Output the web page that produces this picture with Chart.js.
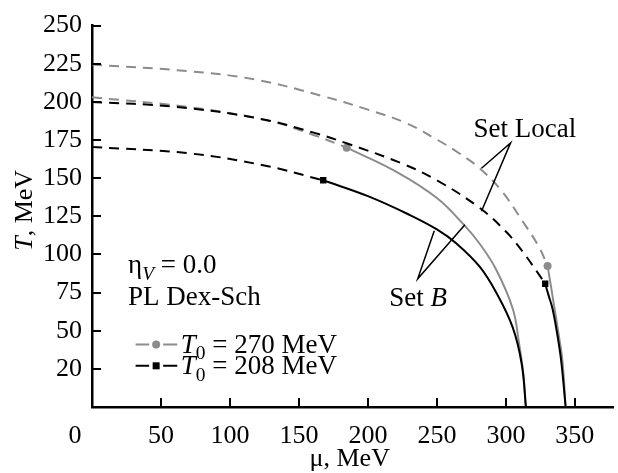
<!DOCTYPE html>
<html>
<head>
<meta charset="utf-8">
<title>T-mu phase diagram</title>
<script src="https://cdn.jsdelivr.net/npm/chart.js@4.4.1/dist/chart.umd.min.js"></script>
<style>
  html, body { margin: 0; padding: 0; background: #fff; }
  canvas { display: block; }
</style>
</head>
<body>
<canvas id="phaseChart" width="618" height="473"></canvas>
<script>
// T0 = 270 MeV, Set Local
var muLocal270Dash = [0, 70, 118, 166, 200, 228, 250, 265, 281, 297, 312, 324, 330.2];
var tLocal270Dash  = [224.5, 220.1, 214.7, 204.1, 194.9, 186, 175.3, 167, 156.5, 141.5, 121.9, 104.9, 92.5];
var muLocal270Solid = [330.2, 332.5, 335, 338, 341, 343.3];
var tLocal270Solid  = [92.5, 80, 66, 49, 30, 0];

// T0 = 208 MeV, Set Local
var muLocal208Dash = [0, 60, 121, 160, 185, 225, 250, 281, 300, 312, 324, 328.5];
var tLocal208Dash  = [200, 196.8, 189.1, 180, 172.7, 159.5, 148.6, 130.5, 115, 102, 86.8, 80.8];
var muLocal208Solid = [328.5, 331, 333.8, 337, 339.8, 341.8, 343.3];
var tLocal208Solid  = [80.8, 73, 64.4, 49, 32.4, 15, 0];

// T0 = 270 MeV, Set B
var muB270Dash = [0, 70, 128, 160, 184.6];
var tB270Dash  = [203, 196.6, 187.6, 178.5, 170];
var muB270Solid = [184.6, 221, 250, 269, 281, 293, 305, 309.5, 312.6, 314.5];
var tB270Solid  = [170, 154, 137, 120, 107, 90, 64.4, 42, 22, 0];

// T0 = 208 MeV, Set B
var muB208Dash = [0, 70, 124, 167.6];
var tB208Dash  = [170.5, 166.3, 158.5, 148.6];
var muB208Solid = [167.6, 200, 230, 250, 264.4, 281, 293, 305, 311.5, 314.5];
var tB208Solid  = [148.6, 138.2, 126, 116.4, 107, 92, 75, 52, 28, 0];

var muTicks = [0, 50, 100, 150, 200, 250, 300, 350];
var tTicks = [25, 50, 75, 100, 125, 150, 175, 200, 225, 250];
var tTickLabels = ['20', '50', '75', '100', '125', '150', '175', '200', '225', '250'];

var GRAY = '#8c8c8c';
var BLACK = '#000000';
var FONT = '"Liberation Serif", "Times New Roman", serif';

function points(mu, t) {
  return mu.map(function (m, i) { return { x: m, y: t[i] }; });
}

function curve(mu, t, color, dashed, marker) {
  return {
    data: points(mu, t),
    showLine: true,
    borderColor: color,
    backgroundColor: color,
    borderWidth: 2,
    borderDash: dashed ? [10, 7] : [],
    tension: 0.4,
    pointStyle: marker || 'circle',
    pointRadius: function (ctx) {
      if (!marker || ctx.dataIndex !== 0) return 0;
      return marker === 'rect' ? 4.5 : 4;
    },
    pointBorderWidth: 0,
    pointHoverRadius: 0
  };
}

// text with italic / subscript pieces, left aligned at x
function drawRich(ctx, parts, x, y, size) {
  parts.forEach(function (p) {
    var s = p.sub ? size * 0.72 : size;
    ctx.font = (p.italic ? 'italic ' : '') + s + 'px ' + FONT;
    ctx.fillText(p.text, x, y + (p.sub ? size * 0.24 : 0));
    x += ctx.measureText(p.text).width;
  });
  return x;
}

function richWidth(ctx, parts, size) {
  var w = 0;
  parts.forEach(function (p) {
    var s = p.sub ? size * 0.72 : size;
    ctx.font = (p.italic ? 'italic ' : '') + s + 'px ' + FONT;
    w += ctx.measureText(p.text).width;
  });
  return w;
}

var decor = {
  id: 'decor',
  afterDraw: function (chart) {
    var ctx = chart.ctx;
    var a = chart.chartArea;
    var xs = chart.scales.x, ys = chart.scales.y;
    var X = function (v) { return xs.getPixelForValue(v); };
    var Y = function (v) { return ys.getPixelForValue(v); };

    ctx.save();
    // ticks pointing into the plot
    ctx.strokeStyle = BLACK;
    ctx.lineWidth = 2;
    ctx.beginPath();
    muTicks.forEach(function (v) {
      if (v === 0) return;
      ctx.moveTo(Math.round(X(v)), a.bottom);
      ctx.lineTo(Math.round(X(v)), a.bottom - 9);
    });
    tTicks.forEach(function (v) {
      ctx.moveTo(a.left, Math.round(Y(v)));
      ctx.lineTo(a.left + 9, Math.round(Y(v)));
    });
    ctx.stroke();

    ctx.fillStyle = BLACK;
    ctx.textBaseline = 'alphabetic';
    ctx.textAlign = 'center';
    ctx.font = '26px ' + FONT;
    ctx.fillText('0', a.left - 17, a.bottom + 36);

    // axis titles
    ctx.textAlign = 'left';
    var xt = [{ text: 'μ, MeV' }];
    drawRich(ctx, xt, (a.left + a.right) / 2 - richWidth(ctx, xt, 26) / 2 - 3, a.bottom + 59, 26);

    var yt = [{ text: 'T', italic: true }, { text: ', MeV' }];
    ctx.save();
    ctx.translate(a.left - 60, (a.top + a.bottom) / 2 - 6);
    ctx.rotate(-Math.PI / 2);
    drawRich(ctx, yt, -richWidth(ctx, yt, 26) / 2, 0, 26);
    ctx.restore();

    // parameter notes
    drawRich(ctx, [{ text: 'η' }, { text: 'V', italic: true, sub: true }, { text: ' = 0.0' }], X(26.1), Y(87.8), 27);
    drawRich(ctx, [{ text: 'PL Dex-Sch' }], X(26.1), Y(66.9), 27);

    // legend
    var rows = [
      { t: 41, color: GRAY, label: '270', style: 'circle' },
      { t: 27, color: BLACK, label: '208', style: 'rect' }
    ];
    rows.forEach(function (r) {
      var y = Y(r.t);
      var cx = X(46.5);
      ctx.strokeStyle = r.color;
      ctx.lineWidth = 2;
      ctx.beginPath();
      ctx.moveTo(X(31.6), y); ctx.lineTo(cx - 7, y);
      ctx.moveTo(cx + 7, y); ctx.lineTo(X(61.8), y);
      ctx.stroke();
      ctx.fillStyle = r.color;
      if (r.style === 'circle') {
        ctx.beginPath();
        ctx.arc(cx, y, 4, 0, Math.PI * 2);
        ctx.fill();
      } else {
        ctx.fillRect(cx - 3.5, y - 3.5, 7, 7);
      }
      ctx.fillStyle = BLACK;
      drawRich(ctx, [{ text: 'T', italic: true }, { text: '0', sub: true }, { text: ' = ' + r.label + ' MeV' }],
        X(64.4), y + 8.5, 27);
    });

    // set labels with leader lines
    drawRich(ctx, [{ text: 'Set Local' }], X(276.6), Y(177), 27);
    drawRich(ctx, [{ text: 'Set ' }, { text: 'B', italic: true }], X(215.5), Y(66.1), 27);
    ctx.strokeStyle = BLACK;
    ctx.lineWidth = 1.5;
    ctx.beginPath();
    ctx.moveTo(X(282.3), Y(156.5)); ctx.lineTo(X(303.4), Y(173.1)); ctx.lineTo(X(282.3), Y(128.3));
    ctx.moveTo(X(248.1), Y(115.5)); ctx.lineTo(X(236.1), Y(84)); ctx.lineTo(X(270.3), Y(119.4));
    ctx.stroke();
    ctx.restore();
  }
};

var ctx = document.getElementById('phaseChart');
var phaseChart = new Chart(ctx, {
  type: 'scatter',
  data: {
    datasets: [
      curve(muB208Solid, tB208Solid, BLACK, false, 'rect'),
      curve(muB208Dash, tB208Dash, BLACK, true),
      curve(muLocal208Solid, tLocal208Solid, BLACK, false, 'rect'),
      curve(muLocal208Dash, tLocal208Dash, BLACK, true),
      curve(muB270Solid, tB270Solid, GRAY, false, 'circle'),
      curve(muB270Dash, tB270Dash, GRAY, true),
      curve(muLocal270Solid, tLocal270Solid, GRAY, false, 'circle'),
      curve(muLocal270Dash, tLocal270Dash, GRAY, true)
    ]
  },
  options: {
    responsive: false,
    animation: false,
    devicePixelRatio: 1,
    layout: { padding: { top: 17, right: 0, bottom: 0, left: 0 } },
    plugins: {
      legend: { display: false },
      tooltip: { enabled: false }
    },
    scales: {
      x: {
        type: 'linear',
        min: 0,
        max: 378,
        afterBuildTicks: function (scale) {
          scale.ticks = muTicks.map(function (v) { return { value: v }; });
        },
        afterFit: function (scale) { scale.height = 66; },
        grid: { display: false, drawTicks: false },
        border: { display: true, color: BLACK, width: 2.5 },
        ticks: {
          autoSkip: false,
          maxRotation: 0,
          padding: 14,
          color: BLACK,
          font: { family: FONT, size: 26 },
          callback: function (v) { return v === 0 ? '' : String(v); }
        }
      },
      y: {
        type: 'linear',
        min: 0,
        max: 250,
        afterBuildTicks: function (scale) {
          scale.ticks = tTicks.map(function (v) { return { value: v }; });
        },
        afterFit: function (scale) { scale.width = 92; },
        grid: { display: false, drawTicks: false },
        border: { display: true, color: BLACK, width: 2.5 },
        ticks: {
          autoSkip: false,
          padding: 10,
          color: BLACK,
          font: { family: FONT, size: 26 },
          callback: function (v, i) { return tTickLabels[i]; }
        }
      }
    }
  },
  plugins: [decor]
});
</script>
</body>
</html>
